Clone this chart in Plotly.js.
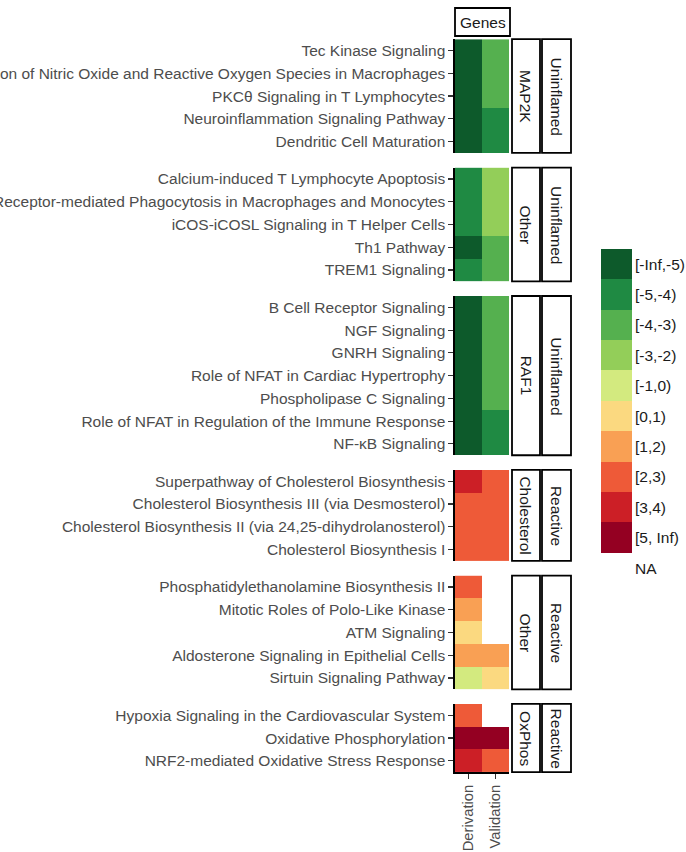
<!DOCTYPE html>
<html>
<head>
<meta charset="utf-8">
<script src="https://cdn.plot.ly/plotly-3.0.1.min.js"></script>
<style>html,body{margin:0;padding:0;background:#fff;}#chart{width:686px;height:852px;}</style>
</head>
<body>
<div id="chart"></div>
<script>
// ---- data ----
const bins = ['[-Inf,-5)','[-5,-4)','[-4,-3)','[-3,-2)','[-1,0)','[0,1)','[1,2)','[2,3)','[3,4)','[5, Inf)'];
const binColors = ['#0D5A2B','#1F8A43','#55B04F','#93CE59','#D3EA7F','#FBD980','#F9A054','#EE5A38','#CC1F26','#940022'];
const conditions = ['Derivation','Validation'];

const map2kPathways = ['Tec Kinase Signaling','Production of Nitric Oxide and Reactive Oxygen Species in Macrophages','PKCθ Signaling in T Lymphocytes','Neuroinflammation Signaling Pathway','Dendritic Cell Maturation'];
const map2kDerivation = ['[-Inf,-5)','[-Inf,-5)','[-Inf,-5)','[-Inf,-5)','[-Inf,-5)'];
const map2kValidation = ['[-4,-3)','[-4,-3)','[-4,-3)','[-5,-4)','[-5,-4)'];

const otherUPathways = ['Calcium-induced T Lymphocyte Apoptosis','Fcγ Receptor-mediated Phagocytosis in Macrophages and Monocytes','iCOS-iCOSL Signaling in T Helper Cells','Th1 Pathway','TREM1 Signaling'];
const otherUDerivation = ['[-5,-4)','[-5,-4)','[-5,-4)','[-Inf,-5)','[-5,-4)'];
const otherUValidation = ['[-3,-2)','[-3,-2)','[-3,-2)','[-4,-3)','[-4,-3)'];

const raf1Pathways = ['B Cell Receptor Signaling','NGF Signaling','GNRH Signaling','Role of NFAT in Cardiac Hypertrophy','Phospholipase C Signaling','Role of NFAT in Regulation of the Immune Response','NF-κB Signaling'];
const raf1Derivation = ['[-Inf,-5)','[-Inf,-5)','[-Inf,-5)','[-Inf,-5)','[-Inf,-5)','[-Inf,-5)','[-Inf,-5)'];
const raf1Validation = ['[-4,-3)','[-4,-3)','[-4,-3)','[-4,-3)','[-4,-3)','[-5,-4)','[-5,-4)'];

const cholPathways = ['Superpathway of Cholesterol Biosynthesis','Cholesterol Biosynthesis III (via Desmosterol)','Cholesterol Biosynthesis II (via 24,25-dihydrolanosterol)','Cholesterol Biosynthesis I'];
const cholDerivation = ['[3,4)','[2,3)','[2,3)','[2,3)'];
const cholValidation = ['[2,3)','[2,3)','[2,3)','[2,3)'];

const otherRPathways = ['Phosphatidylethanolamine Biosynthesis II','Mitotic Roles of Polo-Like Kinase','ATM Signaling','Aldosterone Signaling in Epithelial Cells','Sirtuin Signaling Pathway'];
const otherRDerivation = ['[2,3)','[1,2)','[0,1)','[1,2)','[-1,0)'];
const otherRValidation = [null,null,null,'[1,2)','[0,1)'];

const oxPathways = ['Hypoxia Signaling in the Cardiovascular System','Oxidative Phosphorylation','NRF2-mediated Oxidative Stress Response'];
const oxDerivation = ['[2,3)','[5, Inf)','[3,4)'];
const oxValidation = [null,'[5, Inf)','[2,3)'];

const facetLabels = ['MAP2K','Other','RAF1','Cholesterol','Other','OxPhos'];
const groupLabels = ['Uninflamed','Uninflamed','Uninflamed','Reactive','Reactive','Reactive'];
const legendLabels = bins.concat(['NA']);

// ---- build ----
const panels = [
  [map2kPathways, map2kDerivation, map2kValidation],
  [otherUPathways, otherUDerivation, otherUValidation],
  [raf1Pathways, raf1Derivation, raf1Validation],
  [cholPathways, cholDerivation, cholValidation],
  [otherRPathways, otherRDerivation, otherRValidation],
  [oxPathways, oxDerivation, oxValidation]
];

const W = 686, H = 852;
const fx = px => px / W;
const fy = py => 1 - py / H;
const FONT = 'Liberation Sans, Arial, sans-serif';
const FS = 15.5;

const colorscale = [];
binColors.forEach((c, i) => {
  colorscale.push([i / binColors.length, c]);
  colorscale.push([(i + 1) / binColors.length, c]);
});
const idx = b => (b === null || b === undefined) ? null : bins.indexOf(b);

const rowH = 22.75, gap = 14.65, top0 = 39.2;
const panelX0 = 455, panelX1 = 509;
const traces = [];
const layout = {
  width: W, height: H,
  margin: {l: 0, r: 0, t: 0, b: 0},
  paper_bgcolor: '#fff', plot_bgcolor: 'rgba(0,0,0,0)',
  font: {family: FONT, size: FS, color: '#4D4D4D'},
  showlegend: false,
  shapes: [], annotations: []
};

let cur = top0;
panels.forEach((p, i) => {
  const [paths, der, val] = p;
  const n = paths.length;
  const y0 = cur, y1 = cur + n * rowH;
  const yname = i === 0 ? 'y' : 'y' + (i + 1);
  const ykey = i === 0 ? 'yaxis' : 'yaxis' + (i + 1);
  traces.push({
    type: 'heatmap', x: conditions, y: paths,
    z: paths.map((_, j) => [idx(der[j]), idx(val[j])]),
    xaxis: 'x', yaxis: yname,
    colorscale: colorscale, zmin: -0.5, zmax: 9.5, showscale: false,
    hoverongaps: false
  });
  layout[ykey] = {
    domain: [fy(y1), fy(y0)], anchor: 'x', type: 'category',
    categoryorder: 'array', categoryarray: paths,
    range: [n - 0.5, -0.5],
    showline: true, linecolor: '#000', linewidth: 1.6,
    ticks: 'outside', ticklen: 5, tickwidth: 1.2, tickcolor: '#333',
    tickfont: {family: FONT, size: FS, color: '#4D4D4D'},
    showgrid: false, zeroline: false, fixedrange: true
  };
  // strips
  [[512, 540, facetLabels[i]], [542, 571, groupLabels[i]]].forEach(s => {
    layout.shapes.push({type: 'rect', xref: 'paper', yref: 'paper', layer: 'below',
      x0: fx(s[0]), x1: fx(s[1]), y0: fy(y1), y1: fy(y0),
      line: {color: '#000', width: 1.8}, fillcolor: '#fff'});
    layout.annotations.push({xref: 'paper', yref: 'paper',
      x: fx((s[0] + s[1]) / 2), y: fy((y0 + y1) / 2), text: s[2],
      xanchor: 'center', yanchor: 'middle',
      showarrow: false, textangle: 90,
      font: {family: FONT, size: FS, color: '#1A1A1A'}});
  });
  cur = y1 + gap;
});

layout.xaxis = {
  domain: [fx(panelX0), fx(panelX1)], anchor: 'y6', type: 'category',
  categoryorder: 'array', categoryarray: conditions, range: [-0.5, 1.5],
  showline: true, linecolor: '#000', linewidth: 1.6,
  ticks: 'outside', ticklen: 5, tickwidth: 1.2, tickcolor: '#333',
  tickangle: -90, tickfont: {family: FONT, size: 14.8, color: '#4D4D4D'},
  showgrid: false, zeroline: false, fixedrange: true
};

// Genes strip
layout.shapes.push({type: 'rect', xref: 'paper', yref: 'paper', layer: 'below',
  x0: fx(455), x1: fx(510), y0: fy(36), y1: fy(8),
  line: {color: '#000', width: 1.8}, fillcolor: '#fff'});
layout.annotations.push({xref: 'paper', yref: 'paper', x: fx(482.5), y: fy(22),
  xanchor: 'center', yanchor: 'middle',
  text: 'Genes', showarrow: false, font: {family: FONT, size: FS, color: '#1A1A1A'}});

// legend as a key heatmap
const legTop = 249, legRow = 30.4;
traces.push({
  type: 'heatmap', x: ['key'], y: legendLabels,
  z: legendLabels.map(l => [idx(bins.includes(l) ? l : null)]),
  xaxis: 'x2', yaxis: 'y7',
  colorscale: colorscale, zmin: -0.5, zmax: 9.5, showscale: false, hoverongaps: false
});
layout.xaxis2 = {domain: [fx(601), fx(632)], anchor: 'y7', range: [-0.5, 0.5],
  visible: false, fixedrange: true};
layout.yaxis7 = {
  domain: [fy(legTop + legendLabels.length * legRow), fy(legTop)], anchor: 'x2',
  side: 'right', type: 'category', categoryorder: 'array', categoryarray: legendLabels,
  range: [legendLabels.length - 0.5, -0.5],
  showline: false, ticks: '', showgrid: false, zeroline: false,
  ticklabelstandoff: 2,
  tickfont: {family: FONT, size: FS, color: '#1A1A1A'}, fixedrange: true
};

Plotly.newPlot('chart', traces, layout, {displayModeBar: false, staticPlot: true});
</script>
</body>
</html>
